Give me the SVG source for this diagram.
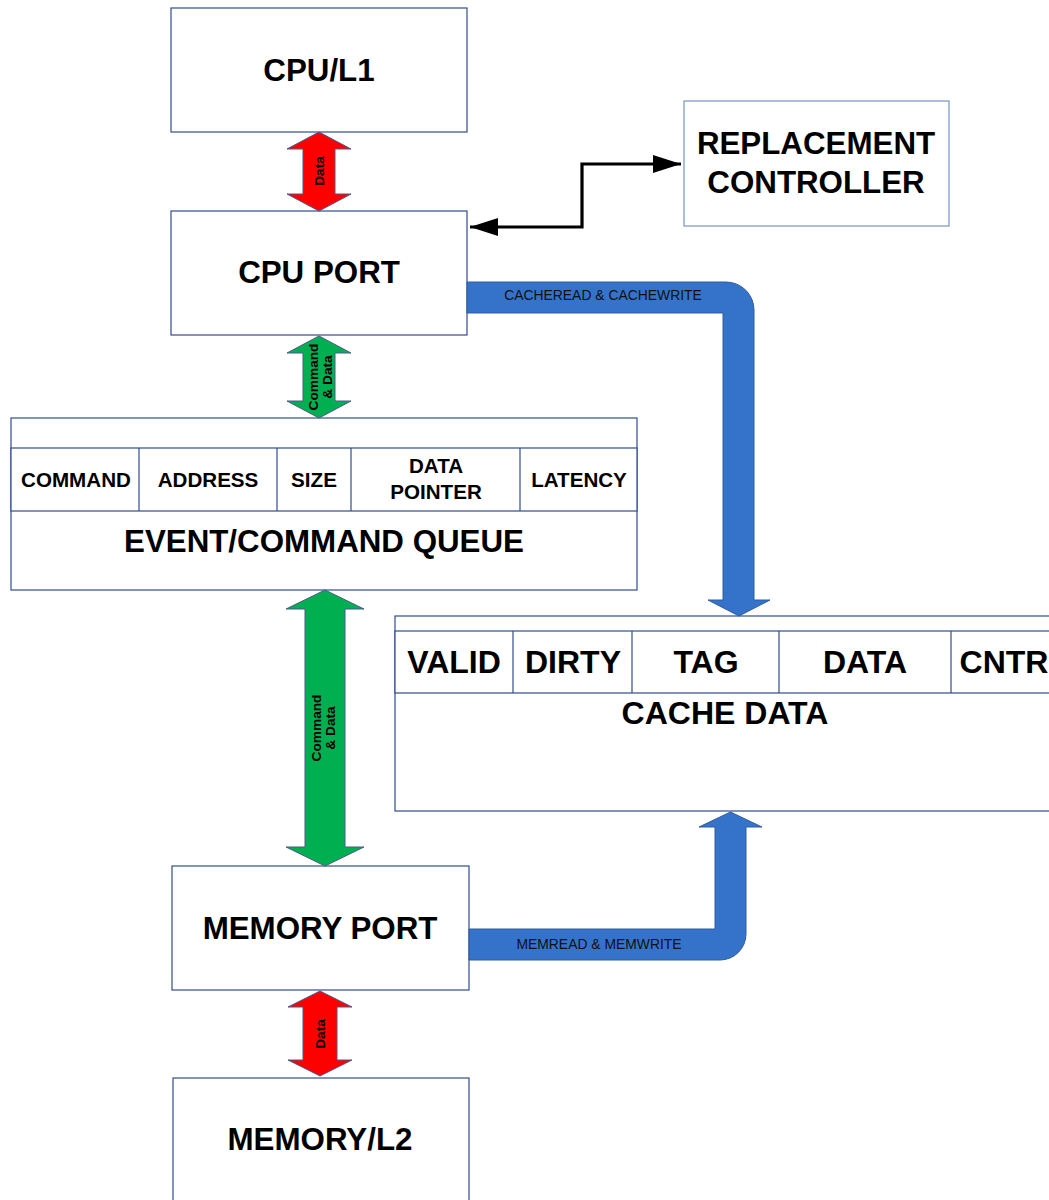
<svg xmlns="http://www.w3.org/2000/svg" width="1049" height="1200" viewBox="0 0 1049 1200">
<defs>
<style>
.box{fill:#fff;stroke:#2F4E8C;stroke-width:1.2}
.boxl{fill:#fff;stroke:#7A93C0;stroke-width:1.2}
.t{font-family:"Liberation Sans",Arial,sans-serif;font-weight:bold;fill:#000;text-anchor:middle}
.big{font-size:31.3px}
.cell{font-size:20.6px}
.cc{font-size:32px}
.lbl{font-family:"Liberation Sans",Arial,sans-serif;font-size:13.9px;fill:#111;text-anchor:middle}
.sm{font-size:13.7px}
.red{fill:#FF0000;stroke:#4A5A8A;stroke-width:1}
.grn{fill:#00B050;stroke:#4A5A8A;stroke-width:1}
.blu{fill:#3573CB;stroke:#2E5C9E;stroke-width:1}
.blk{fill:none;stroke:#000;stroke-width:3.2}
</style>
<marker id="ah" markerUnits="userSpaceOnUse" markerWidth="30" markerHeight="20" refX="28" refY="10" orient="auto-start-reverse" viewBox="0 0 30 20">
<path d="M0,1 L28,10 L0,19 Z" fill="#000"/>
</marker>
</defs>

<g id="cpu-l1">
<rect class="box" x="171" y="8" width="296" height="124"/>
<text class="t big" x="319" y="81">CPU/L1</text>
</g>

<g id="cpu-port">
<rect class="box" x="171" y="211" width="296" height="124"/>
<text class="t big" x="319" y="283">CPU PORT</text>
</g>

<g id="replacement-controller">
<rect class="boxl" x="684" y="101" width="265" height="125"/>
<text class="t big" x="816" y="154">REPLACEMENT</text>
<text class="t big" x="816" y="193">CONTROLLER</text>
</g>

<g id="event-queue">
<rect class="box" x="11" y="418" width="626" height="172"/>
<rect class="box" x="11" y="448" width="626" height="63"/>
<line class="box" x1="139" y1="448" x2="139" y2="511"/>
<line class="box" x1="277" y1="448" x2="277" y2="511"/>
<line class="box" x1="351" y1="448" x2="351" y2="511"/>
<line class="box" x1="520" y1="448" x2="520" y2="511"/>
<text class="t cell" x="76" y="486.5">COMMAND</text>
<text class="t cell" x="208" y="486.5">ADDRESS</text>
<text class="t cell" x="314" y="486.5">SIZE</text>
<text class="t cell" x="436" y="473">DATA</text>
<text class="t cell" x="436" y="499">POINTER</text>
<text class="t cell" x="579" y="486.5">LATENCY</text>
<text class="t big" x="324" y="552">EVENT/COMMAND QUEUE</text>
</g>

<g id="cache-data">
<rect class="box" x="395" y="616" width="670" height="195"/>
<rect class="box" x="395" y="631" width="670" height="62"/>
<line class="box" x1="513" y1="631" x2="513" y2="693"/>
<line class="box" x1="632" y1="631" x2="632" y2="693"/>
<line class="box" x1="779" y1="631" x2="779" y2="693"/>
<line class="box" x1="951" y1="631" x2="951" y2="693"/>
<text class="t cc" x="454" y="672.5">VALID</text>
<text class="t cc" x="573" y="672.5">DIRTY</text>
<text class="t cc" x="706" y="672.5">TAG</text>
<text class="t cc" x="865" y="672.5">DATA</text>
<text class="t cc" x="1004" y="672.5">CNTR</text>
<text class="t cc" x="725" y="723.5">CACHE DATA</text>
</g>

<g id="memory-port">
<rect class="box" x="172" y="866" width="297" height="124"/>
<text class="t big" x="320" y="939">MEMORY PORT</text>
</g>

<g id="memory-l2">
<rect class="box" x="173" y="1078" width="296" height="140"/>
<text class="t big" x="320" y="1150">MEMORY/L2</text>
</g>

<g id="connectors">
<polygon class="red" points="319,132 351,149 335,149 335,194 351,194 319,211 287,194 303,194 303,149 287,149"/>
<text class="t sm" transform="translate(323.5,171) rotate(-90)">Data</text>

<polygon class="grn" points="319,336 351,353 335,353 335,401 351,401 319,418 287,401 303,401 303,353 287,353"/>
<text class="t sm" transform="translate(318,377) rotate(-90)">Command</text>
<text class="t sm" transform="translate(332,377) rotate(-90)">&amp; Data</text>

<polygon class="grn" points="325,590 364,609 345,609 345,847 364,847 325,866 286,847 305,847 305,609 286,609"/>
<text class="t sm" transform="translate(321,728) rotate(-90)">Command</text>
<text class="t sm" transform="translate(335,728) rotate(-90)">&amp; Data</text>

<polygon class="red" points="320,991 352,1007 337,1007 337,1060 352,1060 320,1076 288,1060 303,1060 303,1007 288,1007"/>
<text class="t sm" transform="translate(324.5,1034) rotate(-90)">Data</text>

<path class="blk" d="M470,227 H582 V164 H681" marker-start="url(#ah)" marker-end="url(#ah)"/>

<path class="blu" d="M467,282 H726 A28,28 0 0 1 754,310 V600 H770 L739,616 L708,600 H723 V313 H467 Z"/>
<text class="lbl" x="603" y="300">CACHEREAD &amp; CACHEWRITE</text>

<path class="blu" d="M469,929 H715 V827 H699 L730.5,812 L762,827 H746 V934 A26,26 0 0 1 720,960 H469 Z"/>
<text class="lbl" x="599" y="949">MEMREAD &amp; MEMWRITE</text>
</g>
</svg>
